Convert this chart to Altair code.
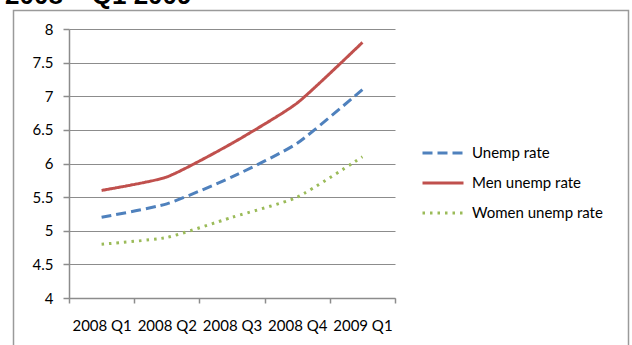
import altair as alt
import pandas as pd

# Quarterly unemployment rates (%)
quarters = ["2008 Q1", "2008 Q2", "2008 Q3", "2008 Q4", "2009 Q1"]
unemp_rate = [5.2, 5.4, 5.8, 6.3, 7.1]
men_rate = [5.6, 5.8, 6.3, 6.9, 7.8]
women_rate = [4.8, 4.9, 5.2, 5.5, 6.1]

series_names = ["Unemp rate", "Men unemp rate", "Women unemp rate"]
series_colors = ["#4F81BD", "#C0504D", "#9BBB59"]
series_dashes = [[10, 5], [1, 0], [2.5, 5]]
y_ticks = [4, 4.5, 5, 5.5, 6, 6.5, 7, 7.5, 8]
heading = "2008 – Q1 2009"

rows = []
for name, values in zip(series_names, [unemp_rate, men_rate, women_rate]):
    for q, v in zip(quarters, values):
        rows.append({"quarter": q, "series": name, "rate": v})
df = pd.DataFrame(rows)

FONT = "Lato"
GRID = "#8C8C8C"

lines = alt.Chart(df).mark_line(
    interpolate="cardinal", tension=0.45, strokeWidth=3
).encode(
    x=alt.X(
        "quarter:N",
        sort=quarters,
        scale=alt.Scale(type="band", paddingInner=0, paddingOuter=0),
        axis=alt.Axis(
            title=None, labelAngle=0, tickBand="extent", grid=False,
            domainColor=GRID, domainWidth=1.5, tickColor=GRID, tickWidth=1.5,
            tickSize=5, labelFont=FONT, labelFontSize=15, labelColor="#000000",
            labelPadding=15,
        ),
    ),
    y=alt.Y(
        "rate:Q",
        scale=alt.Scale(domain=[4, 8], nice=False, zero=False),
        axis=alt.Axis(
            title=None, values=y_ticks, format="~g", grid=True, gridColor=GRID,
            gridWidth=1, domainColor=GRID, domainWidth=1.5, tickColor=GRID,
            tickWidth=1.5, tickSize=6, labelFont=FONT, labelFontSize=15,
            labelColor="#000000", labelPadding=10,
        ),
    ),
    color=alt.Color(
        "series:N",
        title=None,
        scale=alt.Scale(domain=series_names, range=series_colors),
        legend=alt.Legend(
            orient="none", legendX=352, legendY=102,
            symbolType="stroke", symbolSize=1681, symbolStrokeWidth=3,
            labelFont=FONT, labelFontSize=15, labelColor="#000000",
            labelOffset=7, rowPadding=-9.5,
        ),
    ),
    strokeDash=alt.StrokeDash(
        "series:N",
        title=None,
        scale=alt.Scale(domain=series_names, range=series_dashes),
    ),
    order=alt.Order("quarter:N"),
)

one = pd.DataFrame({"k": [0]})

frame = alt.Chart(one).mark_rect(
    fillOpacity=0, stroke="#9A9A9A", strokeWidth=1.5
).encode(
    x=alt.value(-55.5), x2=alt.value(559.5),
    y=alt.value(-18.5), y2=alt.value(330),
)

title_mark = alt.Chart(one).mark_text(
    text=heading, align="left", baseline="alphabetic",
    font="Liberation Sans", fontWeight="bold", fontSize=26, color="#000000",
).encode(x=alt.value(-64), y=alt.value(-25))

chart = alt.layer(frame, lines, title_mark).properties(
    width=326, height=269,
    padding={"left": 69, "top": 29, "right": 237, "bottom": 47},
    autosize="none", background="#FFFFFF",
).configure_view(stroke="transparent")

chart.save("out.html", embed_options={"renderer": "svg", "actions": False})
